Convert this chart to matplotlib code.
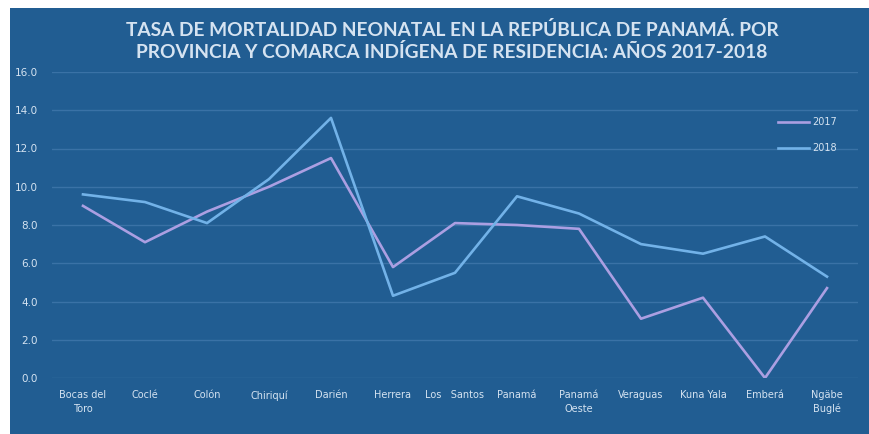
import matplotlib.pyplot as plt

provincias = ["Bocas del\nToro", "Coclé", "Colón", "Chiriquí", "Darién", "Herrera",
              "Los   Santos", "Panamá", "Panamá\nOeste", "Veraguas", "Kuna Yala",
              "Emberá", "Ngäbe\nBuglé"]
tasa_2017 = [9.0, 7.1, 8.7, 10.0, 11.5, 5.8, 8.1, 8.0, 7.8, 3.1, 4.2, 0.0, 4.7]
tasa_2018 = [9.6, 9.2, 8.1, 10.4, 13.6, 4.3, 5.5, 9.5, 8.6, 7.0, 6.5, 7.4, 5.3]
y_ticks = [0, 2, 4, 6, 8, 10, 12, 14, 16]

bg = "#215d92"
grid_c = "#3a72a6"
txt_c = "#d5e3f1"
c2017 = "#ab9fe2"
c2018 = "#72b2e8"

fig = plt.figure(figsize=(8.69, 4.34), dpi=100)
fig.patch.set_facecolor("white")

# blue panel behind everything (white strip left and top)
bg_ax = fig.add_axes([10 / 869, 0, 1 - 10 / 869, 1 - 8 / 434], zorder=-1)
bg_ax.set_facecolor(bg)
bg_ax.set_xticks([])
bg_ax.set_yticks([])
for s in bg_ax.spines.values():
    s.set_visible(False)

# axes: x from 52 to 858 px, y from 72 to 378 px
ax = fig.add_axes([52 / 869, 1 - 378 / 434, 806 / 869, 306 / 434])
ax.set_facecolor("none")
x = list(range(len(provincias)))
ax.plot(x, tasa_2017, color=c2017, lw=1.9, label="2017")
ax.plot(x, tasa_2018, color=c2018, lw=1.9, label="2018")

ax.set_xlim(-0.5, len(provincias) - 0.5)
ax.set_ylim(0, 16)
ax.set_yticks(y_ticks)
ax.set_yticklabels([f"{v:.1f}" for v in y_ticks])
ax.set_xticks(x)
ax.set_xticklabels(provincias)
ax.tick_params(axis="both", length=0, colors=txt_c, labelsize=7)
ax.tick_params(axis="y", pad=10, labelsize=7.5)
ax.tick_params(axis="x", pad=9)
for lab in ax.get_xticklabels():
    lab.set_linespacing(1.4)
ax.grid(axis="y", color=grid_c, lw=1)
ax.set_axisbelow(True)
for s in ax.spines.values():
    s.set_visible(False)

leg = ax.legend(loc="upper right", bbox_to_anchor=(0.985, 0.88), frameon=False,
                fontsize=7, handlelength=3.2, labelspacing=1.6, handletextpad=0.3)
for t in leg.get_texts():
    t.set_color(txt_c)

fig.text(0.52, 1 - 41 / 434,
         "TASA DE MORTALIDAD NEONATAL EN LA REPÚBLICA DE PANAMÁ. POR\n"
         "PROVINCIA Y COMARCA INDÍGENA DE RESIDENCIA: AÑOS 2017-2018",
         ha="center", va="center", color=txt_c, fontsize=13.8,
         fontweight="bold", family="Lato", linespacing=1.2)

fig.savefig("out.png", dpi=100)
